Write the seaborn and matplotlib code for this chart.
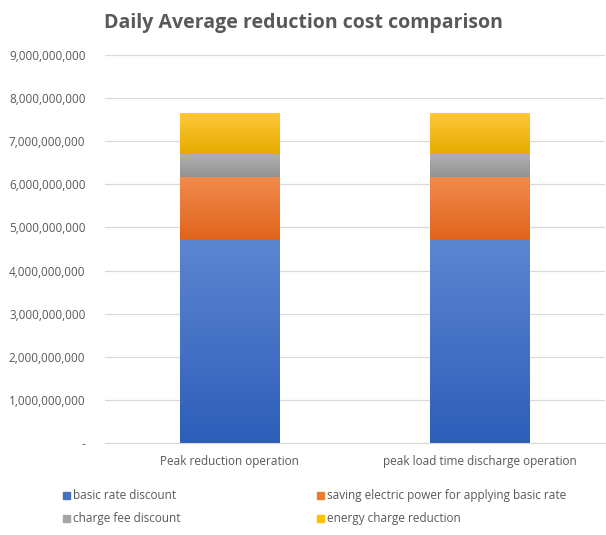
import seaborn as sns
import matplotlib.pyplot as plt
import matplotlib.ticker as mticker
from matplotlib.colors import LinearSegmentedColormap
from matplotlib.patches import Patch
import numpy as np

categories = ["Peak reduction operation", "peak load time discharge operation"]
series_names = ["basic rate discount", "saving electric power for applying basic rate",
                "charge fee discount", "energy charge reduction"]
basic_rate = [4.72e9, 4.72e9]
saving_power = [1.45e9, 1.45e9]
charge_fee = [0.54e9, 0.54e9]
energy_charge = [0.95e9, 0.95e9]

# (top, bottom) colours of the excel style gradient
grads = [("#5d86d1", "#2e5eb9"), ("#f18b4e", "#e0641b"),
         ("#b2b2b2", "#929292"), ("#ffc738", "#e5ab00")]
legend_cols = ["#4472c4", "#ed7d31", "#a5a5a5", "#ffc000"]

sns.set_style("white")
plt.rcParams["font.family"] = ["Open Sans", "DejaVu Sans"]

fig = plt.figure(figsize=(6.06, 5.35), dpi=100)
ax = fig.add_axes([0.173, 0.172, 0.825, 0.725])

bottom = np.zeros(len(categories))
for vals, (c_top, c_bot) in zip([basic_rate, saving_power, charge_fee, energy_charge], grads):
    n_before = len(ax.patches)
    sns.barplot(x=categories, y=vals, bottom=bottom, color=c_top, width=0.4,
                saturation=1, ax=ax, edgecolor="none")
    cmap = LinearSegmentedColormap.from_list("g", [c_bot, c_top])
    for p in ax.patches[n_before:]:
        x0, y0 = p.get_x(), p.get_y()
        w, h = p.get_width(), p.get_height()
        grad = np.linspace(0, 1, 100).reshape(-1, 1)
        im = ax.imshow(grad, cmap=cmap, origin="lower", aspect="auto",
                       extent=[x0, x0 + w, y0, y0 + h], zorder=2)
        im.set_clip_path(p)
    bottom = bottom + np.array(vals)

ax.set_xlim(-0.5, 1.5)
ax.set_ylim(0, 9e9)
ax.yaxis.set_major_locator(mticker.MultipleLocator(1e9))
ax.yaxis.set_major_formatter(mticker.FuncFormatter(lambda v, p: "-" if v == 0 else f"{int(v):,}"))
ax.grid(axis="y", color="#d9d9d9", linewidth=0.9)
ax.set_axisbelow(True)
for s in ["top", "right", "left"]:
    ax.spines[s].set_visible(False)
ax.spines["bottom"].set_color("#d9d9d9")
ax.tick_params(axis="both", length=0, colors="#595959", labelsize=8.5)
ax.tick_params(axis="y", pad=14)
ax.tick_params(axis="x", pad=9)

fig.suptitle("Daily Average reduction cost comparison", y=0.975, fontsize=14,
             fontweight="bold", color="#595959")

handles = [Patch(color=c) for c in legend_cols]
order = [0, 2, 1, 3]
fig.legend([handles[i] for i in order], [series_names[i] for i in order],
           loc="upper left", bbox_to_anchor=(0.086, 0.105), ncol=2, frameon=False,
           fontsize=8.5, labelcolor="#595959", handlelength=0.6, handleheight=0.6,
           handletextpad=0.3, columnspacing=11.5, labelspacing=0.85)

plt.savefig("out.png", dpi=100)
